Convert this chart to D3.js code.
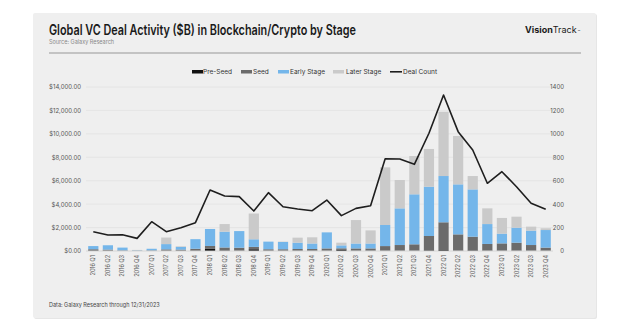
<!DOCTYPE html>
<html><head><meta charset="utf-8">
<script src="https://cdn.jsdelivr.net/npm/d3@7"></script>
<style>
html,body{margin:0;padding:0;background:#fff;}
svg{display:block;font-family:Inter, "Noto Sans", sans-serif;}
</style></head>
<body><svg id="c" width="623" height="323"></svg>
<script>
const quarters = ["2016 Q1","2016 Q2","2016 Q3","2016 Q4","2017 Q1","2017 Q2","2017 Q3","2017 Q4",
"2018 Q1","2018 Q2","2018 Q3","2018 Q4","2019 Q1","2019 Q2","2019 Q3","2019 Q4",
"2020 Q1","2020 Q2","2020 Q3","2020 Q4","2021 Q1","2021 Q2","2021 Q3","2021 Q4",
"2022 Q1","2022 Q2","2022 Q3","2022 Q4","2023 Q1","2023 Q2","2023 Q3","2023 Q4"];
const preSeed = [50,30,10,5,10,20,20,40,180,50,30,150,20,20,20,20,20,130,20,20,20,20,20,60,80,30,60,30,20,30,20,20];
const seed    = [100,90,40,25,40,120,100,150,250,250,250,200,130,130,150,150,200,100,200,200,400,490,550,1220,2370,1390,1160,570,630,680,490,270];
const earlyStage = [270,370,240,30,140,450,230,820,1450,1350,1420,650,650,620,540,470,1370,250,420,420,1800,3130,4270,4210,3950,4270,4040,1700,830,1280,1230,1500];
const laterStage = [0,0,0,30,0,560,50,0,0,650,0,2200,0,30,430,530,0,230,2000,1120,4920,2420,3270,3220,5490,4130,1140,1340,1340,940,340,150];
const dealCount = [165,137,138,108,250,165,199,242,521,470,464,341,498,378,358,344,435,302,364,387,788,785,740,1005,1332,1019,862,578,677,549,407,356];
const leftTicks = [0,2000,4000,6000,8000,10000,12000,14000];
const rightTicks = [0,200,400,600,800,1000,1200,1400];
const stageKeys = ["Pre-Seed","Seed","Early Stage","Later Stage"];
const stageColors = ["#111111","#6b6b6b","#74b6ea","#cacaca"];

const svg = d3.select("#c");
// card
svg.append("rect").attr("x",34).attr("y",14).attr("width",563).attr("height",305).attr("fill","#e6e6e6").attr("rx",2);
svg.append("rect").attr("x",33).attr("y",13).attr("width",563).attr("height",305).attr("fill","#efefef").attr("rx",2);

svg.append("text").attr("x",49).attr("y",35).attr("font-size",14).attr("font-weight",600)
  .attr("fill","#1a1a1a").attr("textLength",307).attr("lengthAdjust","spacingAndGlyphs")
  .text("Global VC Deal Activity ($B) in Blockchain/Crypto by Stage");
svg.append("text").attr("x",49).attr("y",44).attr("font-size",5.5).attr("fill","#888")
  .text("Source: Galaxy Research");
svg.append("line").attr("x1",49).attr("x2",581).attr("y1",53).attr("y2",53).attr("stroke","#b5b5b5").attr("stroke-width",1.5);
const vt = svg.append("text").attr("x",525).attr("y",33).attr("font-size",9).attr("fill","#1a1a1a");
vt.append("tspan").attr("font-weight",700).text("Vision");
vt.append("tspan").attr("font-weight",400).text("Track");
vt.append("tspan").attr("font-size",4).text(" \u2122");

const x0 = 86, x1 = 553, yTop = 87, yBot = 251;
const x = d3.scaleBand().domain(quarters).range([x0,x1]).paddingInner(0.3).paddingOuter(0.15);
const yL = d3.scaleLinear().domain([0,14000]).range([yBot,yTop]);
const yR = d3.scaleLinear().domain([0,1400]).range([yBot,yTop]);

// gridlines
svg.append("g").selectAll("line").data(leftTicks).join("line")
  .attr("x1",x0).attr("x2",x1).attr("y1",d=>yL(d)).attr("y2",d=>yL(d))
  .attr("stroke","#e2e2e2").attr("stroke-width",0.8);

// left axis
const fmt = d3.format("$,.2f");
const axL = svg.append("g").attr("transform",`translate(${x0},0)`)
  .call(d3.axisLeft(yL).tickValues(leftTicks).tickFormat(fmt).tickSize(0).tickPadding(5));
axL.select(".domain").remove();
axL.selectAll("text").attr("font-size",6).attr("fill","#555").attr("font-family","Inter, sans-serif");

// right axis
const axR = svg.append("g").attr("transform",`translate(564,0)`)
  .call(d3.axisLeft(yR).tickValues(rightTicks).tickFormat(d3.format("d")).tickSize(0).tickPadding(0));
axR.select(".domain").remove();
axR.selectAll("text").attr("font-size",6).attr("fill","#555").attr("font-family","Inter, sans-serif");

// stacked bars
const rows = quarters.map((q,i)=>({q, "Pre-Seed":preSeed[i], "Seed":seed[i], "Early Stage":earlyStage[i], "Later Stage":laterStage[i]}));
const stack = d3.stack().keys(stageKeys)(rows);
svg.append("g").selectAll("g").data(stack).join("g").attr("fill",(d,i)=>stageColors[i])
  .selectAll("rect").data(d=>d).join("rect")
  .attr("x",d=>x(d.data.q)).attr("width",x.bandwidth())
  .attr("y",d=>yL(d[1])).attr("height",d=>Math.max(0,yL(d[0])-yL(d[1])));

// baseline
svg.append("line").attr("x1",x0).attr("x2",x1).attr("y1",yBot).attr("y2",yBot).attr("stroke","#d8d8d8").attr("stroke-width",0.8);

// deal count line
const line = d3.line().x((d,i)=>x(quarters[i])+x.bandwidth()/2).y(d=>yR(d));
svg.append("path").datum(dealCount).attr("d",line).attr("fill","none").attr("stroke","#1e1e1e").attr("stroke-width",1.6).attr("stroke-linejoin","round");

// x labels
svg.append("g").selectAll("text").data(quarters).join("text")
  .attr("transform",d=>`translate(${x(d)+x.bandwidth()/2+2},255) rotate(-90)`)
  .attr("text-anchor","end").attr("font-size",5.5).attr("fill","#555").text(d=>d);

// legend
const legend = [
  {label:"Pre-Seed", sx:192, tx:203, type:"rect", color:stageColors[0]},
  {label:"Seed", sx:241, tx:253, type:"rect", color:stageColors[1]},
  {label:"Early Stage", sx:278, tx:290, type:"rect", color:stageColors[2]},
  {label:"Later Stage", sx:333, tx:346, type:"rect", color:stageColors[3]},
  {label:"Deal Count", sx:390, tx:403, type:"line", color:"#1e1e1e"}
];
const lg = svg.append("g");
legend.forEach(l=>{
  if(l.type==="rect") lg.append("rect").attr("x",l.sx).attr("y",70).attr("width",11).attr("height",3.5).attr("fill",l.color);
  else lg.append("line").attr("x1",l.sx).attr("x2",l.sx+12).attr("y1",71.8).attr("y2",71.8).attr("stroke",l.color).attr("stroke-width",1.6);
  lg.append("text").attr("x",l.tx).attr("y",74).attr("font-size",6.5).attr("fill","#333").text(l.label);
});

svg.append("text").attr("x",49).attr("y",307).attr("font-size",5.5).attr("fill","#444")
  .text("Data: Galaxy Research through 12/31/2023");
</script></body></html>
